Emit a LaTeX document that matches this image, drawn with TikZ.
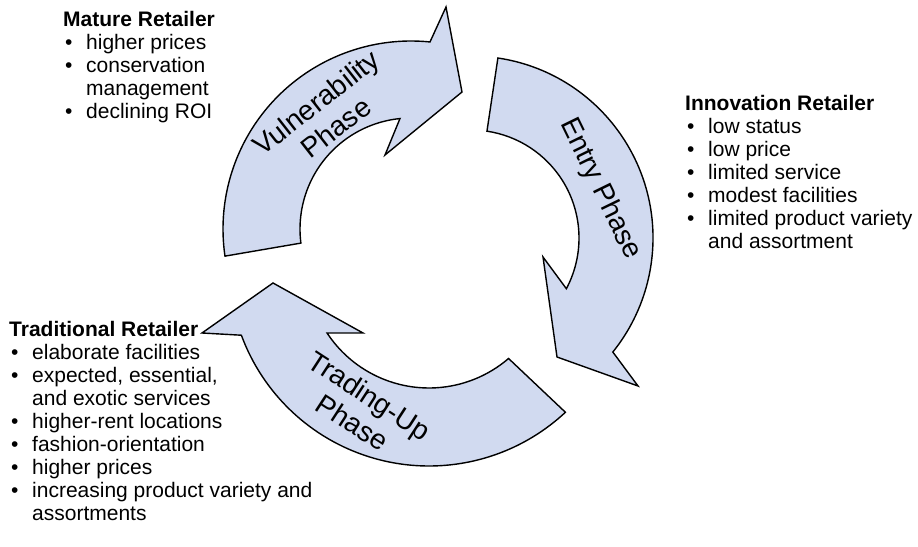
\documentclass[tikz,border=0pt]{standalone}
\usepackage{fontspec}
\setmainfont{Liberation Sans}
\usetikzlibrary{calc}
\definecolor{arrowfill}{RGB}{209,218,240}
\tikzset{
  cyclearrow/.style={draw=black, fill=arrowfill, line width=1.4pt, line join=miter},
  phaselabel/.style={font=\fontsize{28}{32}\selectfont, align=center, inner sep=0},
  retailer/.style={anchor=base west, inner sep=0, font=\fontsize{21}{23}\selectfont},
}
\newcommand{\bul}[1]{\makebox[23pt][l]{\hspace{2pt}•}#1}
\newcommand{\cont}[1]{\hspace*{23pt}#1}
\begin{document}
\begin{tikzpicture}[x=1pt,y=1pt]
\useasboundingbox (0,0) rectangle (918,546);
\coordinate (CE) at (471,308);
\coordinate (CV) at (411,317);
\coordinate (CT) at (429,280);

% Vulnerability phase arrow
\path[cyclearrow] ($(CV)+(188.3:188)$) arc[start angle=188.3, end angle=84.2, radius=188]
  -- (446,539) -- (462,454) -- (385,391)
  -- ($(CV)+(95.7:111)$) arc[start angle=95.7, end angle=187.3, radius=111] -- cycle;
% Entry phase arrow
\path[cyclearrow] ($(CE)+(81.5:182)$) arc[start angle=81.5, end angle=-38.8, radius=182]
  -- (638,160) -- (557,189) -- (543,289)
  -- ($(CE)+(-28:108)$) arc[start angle=-28, end angle=81.5, radius=108] -- cycle;
% Trading-up phase arrow
\path[cyclearrow] ($(CT)+(-47:200)$) arc[start angle=-47, end angle=-159.75, radius=200]
  -- (202,213) -- (273,263) -- (363,213)
  -- ($(CT)+(-146.7:122)$) arc[start angle=-146.7, end angle=-49.3, radius=122] -- cycle;

\node[phaselabel, rotate=38] (vuln) at (326,431) {Vulnerability\\Phase};
\node[phaselabel, rotate=-64] (entry) at (600,357) {Entry Phase};
\node[phaselabel, rotate=-33] (trading) at (361,137) {Trading-Up\\Phase};

\node[retailer] (mature) at (63,519) {\begin{tabular}[t]{@{}l@{}}\textbf{Mature Retailer}\\
\bul{higher prices}\\
\bul{conservation}\\
\cont{management}\\
\bul{declining ROI}\end{tabular}};

\node[retailer] (innovation) at (685,435) {\begin{tabular}[t]{@{}l@{}}\textbf{Innovation Retailer}\\
\bul{low status}\\
\bul{low price}\\
\bul{limited service}\\
\bul{modest facilities}\\
\bul{limited product variety}\\
\cont{and assortment}\end{tabular}};

\node[retailer] (traditional) at (9,209) {\begin{tabular}[t]{@{}l@{}}\textbf{Traditional Retailer}\\
\bul{elaborate facilities}\\
\bul{expected, essential,}\\
\cont{and exotic services}\\
\bul{higher-rent locations}\\
\bul{fashion-orientation}\\
\bul{higher prices}\\
\bul{increasing product variety and}\\
\cont{assortments}\end{tabular}};
\end{tikzpicture}
\end{document}
